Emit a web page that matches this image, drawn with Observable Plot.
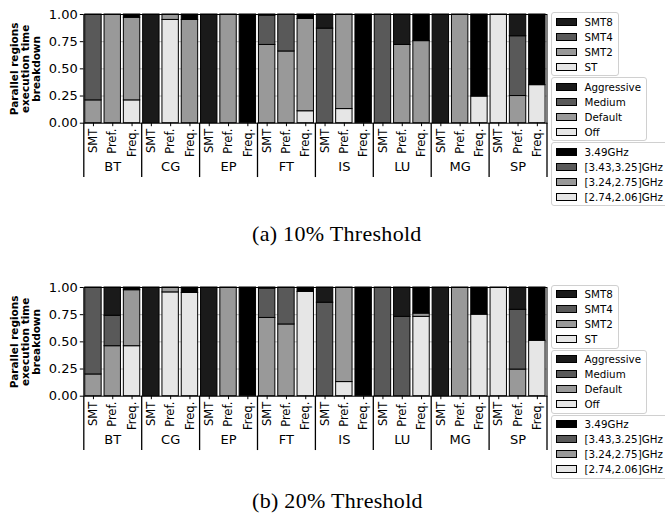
<!DOCTYPE html>
<html><head><meta charset="utf-8">
<script src="https://cdn.jsdelivr.net/npm/d3@7"></script>
<script src="https://cdn.jsdelivr.net/npm/@observablehq/plot@0.6"></script>
<style>
body{margin:0;background:#fff;}
#root{position:relative;width:665px;height:519px;overflow:hidden;font-family:"DejaVu Sans";background:#fff;}
.panel{position:absolute;left:0;width:665px;height:270px;}
.panel svg{position:absolute;left:0;top:0;}
.legend{position:absolute;left:551px;border:1px solid #d0d0d0;border-radius:3px;background:#fff;padding:1px 5px 1px 3.5px;font-size:10.3px;white-space:nowrap;color:#000;}
.row{height:15px;display:flex;align-items:center;}
.sw{width:19px;height:6px;border:1px solid #000;margin-right:8px;flex:none;}
.caption{position:absolute;font-family:"Liberation Serif";font-size:22px;letter-spacing:0.3px;white-space:nowrap;line-height:24px;color:#000;}
</style></head><body><div id="root"></div>
<script>
// ---- data ----
const benchmarks = ["BT","CG","EP","FT","IS","LU","MG","SP"];
const configs = ["SMT","Pref.","Freq."];
// stacking order: bottom -> top
const smtLevels  = ["ST","SMT2","SMT4","SMT8"];
const prefLevels = ["Off","Default","Medium","Aggressive"];
const freqLevels = ["[2.74,2.06]GHz","[3.24,2.75]GHz","[3.43,3.25]GHz","3.49GHz"];
const smtColors  = ["#e6e6e6","#999999","#595959","#1a1a1a"];
const prefColors = ["#e6e6e6","#999999","#595959","#1a1a1a"];
const freqColors = ["#e6e6e6","#999999","#595959","#000000"];
const yTicks = [0, 0.25, 0.5, 0.75, 1];
const yLabel = "Parallel regions\nexecution time\nbreakdown";

// 10% threshold (per benchmark, values bottom -> top)
const t10Smt  = [[0,0.21,0.79,0],[0,0,0,1],[0,0,0,1],[0,0.72,0.27,0.01],[0,0,0.87,0.13],[0,0,1,0],[0,0,0,1],[1,0,0,0]];
const t10Pref = [[0,1,0,0],[0.95,0.05,0,0],[0,1,0,0],[0,0.66,0.34,0],[0.13,0.87,0,0],[0,0.72,0,0.28],[0,1,0,0],[0,0.25,0.55,0.20]];
const t10Freq = [[0.21,0.76,0,0.03],[0,0.95,0,0.05],[0,0,0,1],[0.11,0.85,0,0.04],[0,0,0,1],[0,0.755,0,0.245],[0.245,0,0,0.755],[0.35,0,0,0.65]];
// 20% threshold
const t20Smt  = [[0,0.20,0.80,0],[0,0,0,1],[0,0,0,1],[0,0.72,0.27,0.01],[0,0,0.86,0.14],[0,0,1,0],[0,0,0,1],[1,0,0,0]];
const t20Pref = [[0,0.46,0.28,0.26],[0.955,0.045,0,0],[0,1,0,0],[0,0.66,0.34,0],[0.13,0.87,0,0],[0,0,0.73,0.27],[0,1,0,0],[0,0.245,0.55,0.205]];
const t20Freq = [[0.46,0.515,0,0.025],[0.95,0,0,0.05],[0,0,0,1],[0.96,0,0,0.04],[0,0,0,1],[0.73,0.03,0,0.24],[0.75,0,0,0.25],[0.51,0,0,0.49]];

const captions = ["(a) 10% Threshold","(b) 20% Threshold"];

// ---- build ----
const levelSets = [smtLevels, prefLevels, freqLevels];
const colorSets = [smtColors, prefColors, freqColors];
const allLabels = levelSets.flat();
const allColors = colorSets.flat();

const panels = [
  {values: [t10Smt, t10Pref, t10Freq], caption: captions[0], top: 0, capY: 234},
  {values: [t20Smt, t20Pref, t20Freq], caption: captions[1], top: 272.7, capY: 501}
];

const root = document.getElementById("root");

function makePlot(p) {
  const rows = [];
  benchmarks.forEach((b, bi) => {
    configs.forEach((c, ci) => {
      let acc = 0;
      p.values[ci][bi].forEach((v, li) => {
        if (v > 0) rows.push({idx: bi * 3 + ci, label: levelSets[ci][li], y1: acc, y2: acc + v});
        acc += v;
      });
    });
  });
  const n = benchmarks.length * configs.length;
  const seps = d3.range(benchmarks.length + 1).map(i => i * configs.length - 0.5);
  return Plot.plot({
    width: 550, height: 190,
    marginLeft: 83.3, marginRight: 3.5, marginTop: 14, marginBottom: 67.3,
    x: {domain: [-0.5, n - 0.5]},
    y: {domain: [0, 1]},
    color: {domain: allLabels, range: allColors},
    style: {fontFamily: "DejaVu Sans", color: "#000", background: "transparent", overflow: "visible"},
    marks: [
      Plot.gridY(yTicks.slice(1, -1), {stroke: "#b0b0b0", strokeOpacity: 1, strokeWidth: 0.8}),
      Plot.rect(rows, {x1: d => d.idx - 0.425, x2: d => d.idx + 0.425, y1: "y1", y2: "y2", fill: "label", stroke: "#000", strokeWidth: 1}),
      Plot.frame({stroke: "#000", strokeWidth: 1}),
      Plot.axisY(yTicks, {tickFormat: d3.format(".2f"), tickSize: 3.5, tickPadding: 2.5, fontSize: 13, label: null}),
      Plot.axisX(d3.range(n), {tickFormat: i => configs[i % configs.length], tickRotate: -90, tickSize: 3.5, tickPadding: 2, fontSize: 11.5, label: null}),
      Plot.ruleX(seps, {y1: 0, y2: -0.5, stroke: "#000", strokeWidth: 1.3}),
      Plot.text(benchmarks, {x: (d, i) => i * configs.length + 1, frameAnchor: "bottom", dy: 44, text: d => d, fontSize: 13, lineAnchor: "middle"}),
      Plot.text([yLabel], {frameAnchor: "left", dx: -58.3, rotate: -90, fontWeight: "bold", fontSize: 10.5, lineAnchor: "middle", textAnchor: "middle", lineHeight: 1.05})
    ]
  });
}

const legendTops = [12, 77, 142];

panels.forEach(p => {
  const div = document.createElement("div");
  div.className = "panel";
  div.style.top = p.top + "px";
  div.appendChild(makePlot(p));
  levelSets.forEach((levels, k) => {
    const lg = document.createElement("div");
    lg.className = "legend";
    lg.style.top = legendTops[k] + "px";
    levels.map((l, i) => [l, colorSets[k][i]]).reverse().forEach(([l, c]) => {
      const r = document.createElement("div");
      r.className = "row";
      const sw = document.createElement("span");
      sw.className = "sw";
      sw.style.background = c;
      const t = document.createElement("span");
      t.textContent = l;
      r.appendChild(sw); r.appendChild(t);
      lg.appendChild(r);
    });
    div.appendChild(lg);
  });
  root.appendChild(div);
  const cap = document.createElement("div");
  cap.className = "caption";
  cap.textContent = p.caption;
  cap.style.left = "252px";
  cap.style.top = (p.capY - 12) + "px";
  root.appendChild(cap);
});
</script></body></html>
